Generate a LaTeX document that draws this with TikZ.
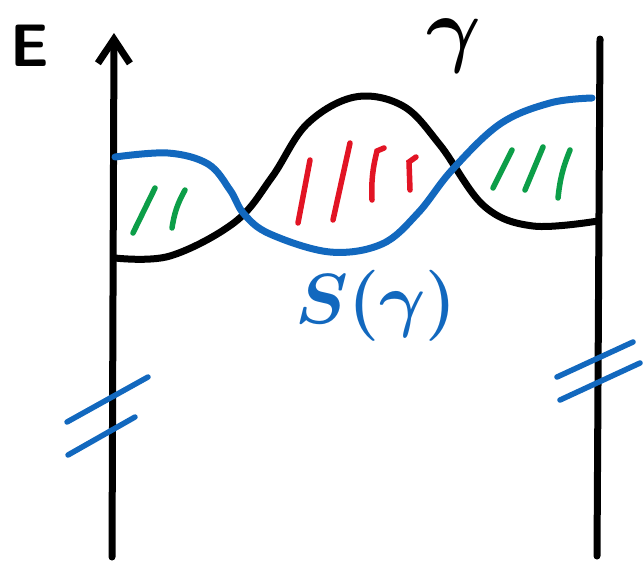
\RequirePackage{fix-cm}
\documentclass[tikz,border=0pt]{standalone}
\usepackage{amsmath}
\usepackage{bm}
\usetikzlibrary{arrows.meta}

\definecolor{penblue}{RGB}{18,104,190}
\definecolor{penred}{RGB}{226,20,36}
\definecolor{pengreen}{RGB}{12,158,72}

\begin{document}
\begin{tikzpicture}[x=1pt,y=-1pt,
    pen/.style={line width=7pt,line cap=round,line join=round},
    hatch/.style={line width=5.5pt,line cap=round}]
            \useasboundingbox (0,0) rectangle (644,584);

            % the two walls
            \coordinate (L0) at (112,557);
            \coordinate (L1) at (114,33);
            \coordinate (R0) at (597,556);
            \coordinate (R1) at (600,39);

            \draw[pen,-{Straight Barb[length=24pt,width=32pt]}] (L0) -- (L1);
            \draw[pen] (R0) -- (R1);

            % gamma and its section
            \draw[pen] plot[smooth,tension=0.6] coordinates {(115,258) (170,256) (235,222) (272,177)
                (307,124) (355,97) (403,106) (440,145) (484,206) (533,226) (598,221)};
            \draw[pen,penblue] plot[smooth,tension=0.6] coordinates {(115,157) (168,153) (208,164) (230,190)
                (244,214) (270,234) (330,252) (382,244) (418,213) (452,170) (500,124) (550,103) (592,98)};

            % hatching
            \draw[hatch,pengreen] (133,233) -- (155,188);
            \draw[hatch,pengreen] (172,228) to[bend left=10] (185,190);
            \draw[hatch,penred] (298,223) -- (310,160);
            \draw[hatch,penred] (333,220) -- (350,143);
            \draw[hatch,penred] (372,200) to[bend left=8] (377,151) -- (384,148);
            \draw[hatch,penred] (410,190) -- (409,162) -- (416,157);
            \draw[hatch,pengreen] (493,188) -- (512,150);
            \draw[hatch,pengreen] (525,190) -- (543,147);
            \draw[hatch,pengreen] (558,198) to[bend left=8] (570,150);

            % cut marks
            \draw[hatch,penblue] (67,422) -- (148,377);
            \draw[hatch,penblue] (68,455) -- (135,417);
            \draw[hatch,penblue] (557,377) -- (633,342);
            \draw[hatch,penblue] (560,400) -- (640,363);

            % labels
            \node[inner sep=0pt,font=\sffamily\bfseries\fontsize{60}{60}\selectfont] (E) at (30,46) {E};
            \node[inner sep=0pt,font=\fontsize{84}{84}\selectfont] (gam) at (454,46) {$\bm{\gamma}$};
            \node[inner sep=0pt,penblue,font=\fontsize{71}{71}\selectfont] (S) at (376,306) {$\bm{S(\gamma)}$};
        \end{tikzpicture}
\end{document}
